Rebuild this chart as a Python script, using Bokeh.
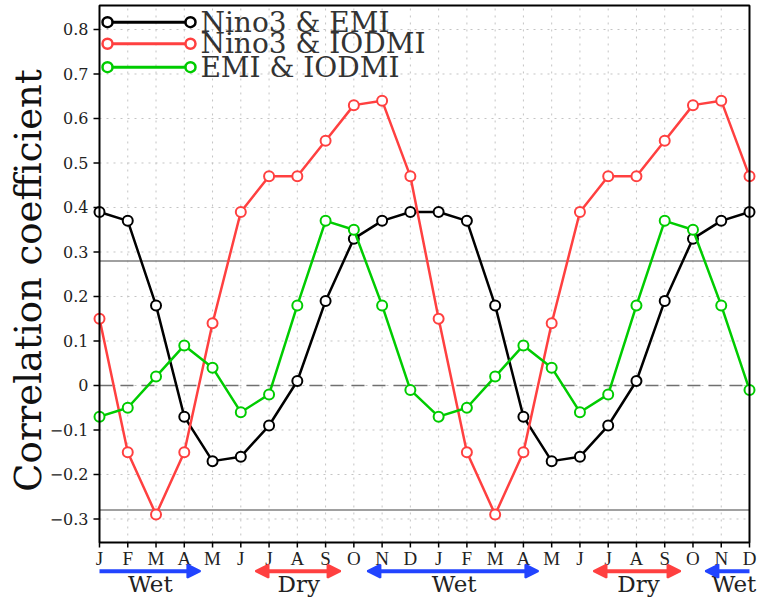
import math
from bokeh.plotting import figure
from bokeh.models import Arrow, NormalHead, Range1d
from bokeh.core.properties import value
from bokeh.embed import file_html
from bokeh.resources import INLINE

# ---------------- data ----------------
month_labels = ["J", "F", "M", "A", "M", "J", "J", "A", "S", "O", "N", "D"] * 2
months = list(range(24))

nino3_emi = [0.39, 0.37, 0.18, -0.07, -0.17, -0.16, -0.09, 0.01, 0.19, 0.33, 0.37, 0.39,
             0.39, 0.37, 0.18, -0.07, -0.17, -0.16, -0.09, 0.01, 0.19, 0.33, 0.37, 0.39]
nino3_iodmi = [0.15, -0.15, -0.29, -0.15, 0.14, 0.39, 0.47, 0.47, 0.55, 0.63, 0.64, 0.47,
               0.15, -0.15, -0.29, -0.15, 0.14, 0.39, 0.47, 0.47, 0.55, 0.63, 0.64, 0.47]
emi_iodmi = [-0.07, -0.05, 0.02, 0.09, 0.04, -0.06, -0.02, 0.18, 0.37, 0.35, 0.18, -0.01,
             -0.07, -0.05, 0.02, 0.09, 0.04, -0.06, -0.02, 0.18, 0.37, 0.35, 0.18, -0.01]

series_names = ["Nino3 & EMI", "Nino3 & IODMI", "EMI & IODMI"]
series_values = [nino3_emi, nino3_iodmi, emi_iodmi]
series_colors = ["#000000", "#ff4040", "#00cc00"]

y_ticks = [-0.3, -0.2, -0.1, 0.0, 0.1, 0.2, 0.3, 0.4, 0.5, 0.6, 0.7, 0.8]
y_tick_labels = ["\u22120.3", "\u22120.2", "\u22120.1", "0", "0.1", "0.2", "0.3",
                 "0.4", "0.5", "0.6", "0.7", "0.8"]
y_title = "Correlation coefficient"
significance = 0.28

# seasons along the time axis
season_names = ["Wet", "Dry", "Wet", "Dry", "Wet"]
season_start = [0.0, 5.52, 9.48, 17.48, 21.44]
season_end = [3.57, 8.53, 15.53, 20.56, 23.0]
season_colors = ["#2244ff", "#ff4040", "#2244ff", "#ff4040", "#2244ff"]
season_head_start = [False, True, True, True, True]
season_head_end = [True, True, True, True, False]
season_label_x = [1.80, 7.05, 12.55, 19.07, 22.45]

# ---------------- layout constants ----------------
PX_X = 28.26                      # pixels per month
PX_Y = 445.0                      # pixels per unit of correlation
X_LO, X_HI = 0, 23
Y_TOP, Y_BOT = 0.8539, -0.3528    # data box
W, H = 759, 601
BOX_L, BOX_R, BOX_T = 99, 749, 5  # pixel position of the box
X_START = -BOX_L / PX_X
X_END = X_HI + (W - BOX_R) / PX_X
Y_END = Y_TOP + BOX_T / PX_Y
Y_START = Y_END - H / PX_Y

YTICK_LEN = 6 / PX_X
XTICK_LEN = 5 / PX_Y
YLAB_X = X_LO - 11 / PX_X
YTITLE_X = X_LO - 71 / PX_X
YTITLE_Y = 0.236
MONTH_Y = -0.3888
ARROW_Y = -0.4173
SEASON_Y = -0.445
LEG_X0, LEG_X1, LEG_TX = 0.283, 3.22, 3.57
LEG_Y = [0.8164, 0.7679, 0.7153]

# ---------------- figure ----------------
p = figure(width=W, height=H, output_backend="svg", toolbar_location=None,
           x_range=Range1d(X_START, X_END), y_range=Range1d(Y_START, Y_END),
           min_border_left=0, min_border_right=0, min_border_top=0, min_border_bottom=0,
           x_axis_location=None, y_axis_location=None)
p.outline_line_color = None
p.xgrid.visible = False
p.ygrid.visible = False

# dotted grid inside the box
inner_months = [m for m in months if X_LO < m < X_HI]
p.segment(x0=inner_months, y0=[Y_BOT] * len(inner_months), x1=inner_months,
          y1=[Y_TOP] * len(inner_months), line_color="#c4c4c4", line_dash="2 5", line_width=1)
p.segment(x0=[X_LO] * len(y_ticks), y0=y_ticks, x1=[X_HI] * len(y_ticks), y1=y_ticks,
          line_color="#c4c4c4", line_dash="2 5", line_width=1)

# reference lines
p.segment(x0=[X_LO, X_LO], y0=[significance, -significance], x1=[X_HI, X_HI],
          y1=[significance, -significance], line_color="#808080", line_width=1.5)
p.segment(x0=[X_LO], y0=[0], x1=[X_HI], y1=[0], line_color="#707070", line_width=1.5,
          line_dash="13 8")

# series
for vals, col in zip(series_values, series_colors):
    p.line(months, vals, line_color=col, line_width=2.5)
    p.scatter(months, vals, size=10, marker="circle", fill_color="white",
              line_color=col, line_width=2)

# box frame
p.quad(left=[X_LO], right=[X_HI], bottom=[Y_BOT], top=[Y_TOP], fill_color=None,
       line_color="black", line_width=2)

# y ticks, tick labels and title
p.segment(x0=[X_LO - YTICK_LEN] * len(y_ticks), y0=y_ticks, x1=[X_LO] * len(y_ticks),
          y1=y_ticks, line_color="black", line_width=1.5)
p.text(x=[YLAB_X] * len(y_ticks), y=y_ticks, text=y_tick_labels,
       text_font=value("DejaVu Serif"), text_font_size="16px", text_align="right",
       text_baseline="middle", text_color="#222222")
p.text(x=[YTITLE_X], y=[YTITLE_Y], text=[y_title], angle=math.pi / 2,
       text_font=value("DejaVu Serif"), text_font_size="37px", text_align="center",
       text_baseline="middle", text_color="#111111")

# x ticks and month labels
p.segment(x0=months, y0=[Y_BOT] * 24, x1=months, y1=[Y_BOT - XTICK_LEN] * 24,
          line_color="black", line_width=1.5)
p.text(x=months, y=[MONTH_Y] * 24, text=month_labels, text_font=value("Liberation Serif"),
       text_font_size="19px", text_align="center", text_baseline="middle",
       text_color="#222222")

# legend (drawn manually: line with a circle at each end)
for name, col, yy in zip(series_names, series_colors, LEG_Y):
    p.line([LEG_X0, LEG_X1], [yy, yy], line_color=col, line_width=3)
    p.scatter([LEG_X0, LEG_X1], [yy, yy], size=10, marker="circle", fill_color="white",
              line_color=col, line_width=2.5)
p.text(x=[LEG_TX] * 3, y=LEG_Y, text=series_names, text_font=value("DejaVu Serif"),
       text_font_size="28px", text_align="left", text_baseline="middle",
       text_color="#333333")

# seasons under the axis
for x0, x1, col, hs, he in zip(season_start, season_end, season_colors,
                               season_head_start, season_head_end):
    start = NormalHead(size=13, fill_color=col, line_color=col, line_width=2) if hs else None
    end = NormalHead(size=13, fill_color=col, line_color=col, line_width=2) if he else None
    p.add_layout(Arrow(x_start=x0, y_start=ARROW_Y, x_end=x1, y_end=ARROW_Y,
                       start=start, end=end, line_color=col, line_width=4))
p.text(x=season_label_x, y=[SEASON_Y] * 5, text=season_names,
       text_font=value("DejaVu Serif"), text_font_size="23px", text_align="center",
       text_baseline="middle", text_color="#222222")

open("out.html", "w").write(file_html(p, INLINE))
